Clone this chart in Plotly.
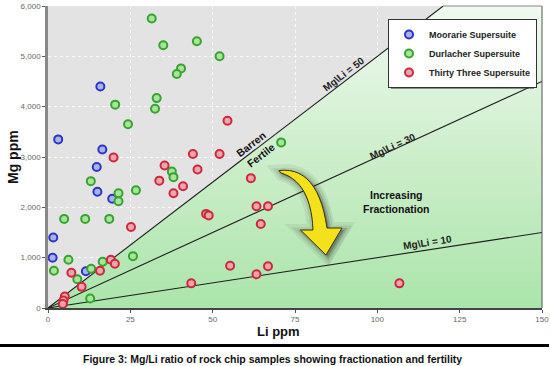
import plotly.graph_objects as go

# ---------------- data ----------------
moorarie_li = [15.9, 3.1, 16.5, 14.8, 15.0, 19.5, 1.6, 1.4, 11.5]
moorarie_mg = [4400, 3350, 3150, 2800, 2310, 2170, 1400, 1000, 730]

durlacher_li = [31.5, 35.0, 45.2, 52.1, 40.4, 39.1, 20.4, 33.0, 32.5, 24.3, 70.8, 37.6, 38.1,
                13.0, 26.7, 21.4, 21.4, 4.9, 11.3, 18.6, 25.8, 6.2, 16.6, 13.1, 1.8, 8.9, 12.8]
durlacher_mg = [5750, 5220, 5300, 5000, 4760, 4650, 4040, 4170, 3960, 3650, 3290, 2710, 2600,
                2520, 2340, 2280, 2120, 1770, 1770, 1770, 1030, 960, 920, 780, 740, 570, 190]

thirty_li = [54.5, 44.0, 52.1, 19.9, 35.4, 45.4, 61.6, 33.8, 41.0, 38.1, 63.3, 66.8, 48.0, 48.8,
             64.6, 25.2, 19.1, 20.3, 55.3, 66.8, 15.8, 7.1, 63.3, 43.5, 106.7, 10.2, 5.1, 4.7, 4.5]
thirty_mg = [3720, 3060, 3060, 2990, 2830, 2750, 2580, 2530, 2420, 2280, 2020, 2020, 1870, 1840,
             1670, 1610, 960, 880, 840, 830, 740, 700, 670, 490, 490, 420, 230, 150, 80]

ratios = [50, 30, 10]
x_ticks = [0, 25, 50, 75, 100, 125, 150]
y_ticks = [0, 1000, 2000, 3000, 4000, 5000, 6000]

X_MAX, Y_MAX = 150, 6000

# ---------------- layout geometry (pixels) ----------------
W, H = 550, 366
L, R, T, B = 48, 542, 6, 308


def dx(px):
    return (px - L) / (R - L) * X_MAX


def dy(py):
    return (B - py) / (B - T) * Y_MAX


def pxp(px):
    return (px - L) / (R - L)


def pyp(py):
    return (B - py) / (B - T)


fig = go.Figure()

# green fertile region below Mg/Li = 50
top_x = Y_MAX / ratios[0]
fig.add_trace(go.Scatter(
    x=[0, top_x, X_MAX, X_MAX, 0], y=[0, Y_MAX, Y_MAX, 0, 0],
    mode="lines", line=dict(width=0), fill="toself",
    fillgradient=dict(type="vertical",
                      colorscale=[[0, "#abe5ab"], [0.5, "#cdeecb"], [1, "#f0faf0"]]),
    hoverinfo="skip", showlegend=False))

# ratio lines
for r in ratios:
    xe = min(X_MAX, Y_MAX / r)
    fig.add_trace(go.Scatter(x=[0, xe], y=[0, xe * r], mode="lines",
                             line=dict(color="#1e1e1e", width=1.1),
                             hoverinfo="skip", showlegend=False))

# ---------------- arrow (decoration) ----------------
def qbez(p0, c, p1, n=14):
    pts = []
    for i in range(n + 1):
        t = i / n
        x = (1 - t) ** 2 * p0[0] + 2 * (1 - t) * t * c[0] + t ** 2 * p1[0]
        y = (1 - t) ** 2 * p0[1] + 2 * (1 - t) * t * c[1] + t ** 2 * p1[1]
        pts.append((x, y))
    return pts


outer = qbez((279, 170.5), (318, 166), (327, 228))
head = [(342, 228), (326, 255), (300.5, 230), (313, 230)]
inner = qbez((313, 230), (311, 182), (281, 173))
arrow_px = outer + head + inner


def path_from(pts, ox=0, oy=0):
    s = "M " + " L ".join(f"{dx(p[0] + ox):.3f},{dy(p[1] + oy):.3f}" for p in pts) + " Z"
    return s


shapes = []
# shadow layers
for w, op, off in [(14, 0.07, 1), (9, 0.10, 2), (4, 0.2, 2)]:
    shapes.append(dict(type="path", path=path_from(arrow_px, off, off), xref="x", yref="y",
                       fillcolor=f"rgba(40,40,40,{op})", line=dict(color=f"rgba(40,40,40,{op})", width=w),
                       layer="above"))
shapes.append(dict(type="path", path=path_from(arrow_px), xref="x", yref="y",
                   fillcolor="#f3e11c", line=dict(color="#3a3300", width=1), layer="above"))

# legend shadow
LEG_X0, LEG_Y0 = 388, 19
shapes.append(dict(type="rect", xref="paper", yref="paper",
                   x0=pxp(LEG_X0 + 3), x1=pxp(LEG_X0 + 146), y0=pyp(LEG_Y0 + 70), y1=pyp(LEG_Y0 + 3),
                   fillcolor="rgba(60,60,60,0.55)", line=dict(width=0), layer="above"))
# right / top border
shapes.append(dict(type="line", xref="paper", yref="paper", x0=1, x1=1, y0=0, y1=1,
                   line=dict(color="#555", width=1)))
shapes.append(dict(type="line", xref="paper", yref="paper", x0=pxp(443), x1=1, y0=1, y1=1,
                   line=dict(color="#888", width=1)))
# caption rule
shapes.append(dict(type="line", xref="paper", yref="paper", x0=pxp(0), x1=pxp(549),
                   y0=pyp(345.5), y1=pyp(345.5), line=dict(color="#000", width=3)))

# ---------------- scatter series ----------------
series = [
    ("Moorarie Supersuite", moorarie_li, moorarie_mg, "#2b36c4", "#aab2ee"),
    ("Durlacher Supersuite", durlacher_li, durlacher_mg, "#36a42e", "#a8e49c"),
    ("Thirty Three Supersuite", thirty_li, thirty_mg, "#c92a3c", "#f3a3ad"),
]
for name, xs, ys, edge, face in series:
    fig.add_trace(go.Scatter(x=xs, y=ys, mode="markers", name=name,
                             marker=dict(symbol="circle", size=8, color=face,
                                         line=dict(color=edge, width=2))))

# ---------------- annotations ----------------
ann = []
lab_font = dict(family="Arial, sans-serif", size=10, color="#222")
ann.append(dict(x=dx(343), y=dy(74), text="<b>Mg\\Li = 50</b>", textangle=-37.4, showarrow=False,
                font=lab_font, xref="x", yref="y"))
ann.append(dict(x=dx(392), y=dy(146), text="<b>Mg\\Li = 30</b>", textangle=-24.6, showarrow=False,
                font=lab_font, xref="x", yref="y"))
ann.append(dict(x=dx(427), y=dy(242), text="<b>Mg\\Li = 10</b>", textangle=-8.6, showarrow=False,
                font=lab_font, xref="x", yref="y"))
big_font = dict(family="Arial, sans-serif", size=10.5, color="#111")
ann.append(dict(x=dx(251), y=dy(144), text="<b>Barren</b>", textangle=-37.4, showarrow=False,
                font=big_font, xref="x", yref="y"))
ann.append(dict(x=dx(261), y=dy(155), text="<b>Fertile</b>", textangle=-37.4, showarrow=False,
                font=big_font, xref="x", yref="y"))
ann.append(dict(x=dx(396), y=dy(202), text="<b>Increasing<br>Fractionation</b>", showarrow=False,
                font=dict(family="Arial, sans-serif", size=10.5, color="#111"), xref="x", yref="y"))
ann.append(dict(x=pxp(278), y=pyp(331), text="<b>Li ppm</b>", showarrow=False, xref="paper", yref="paper",
                xanchor="center", yanchor="middle",
                font=dict(family="Arial, sans-serif", size=13, color="#111")))
ann.append(dict(x=pxp(13), y=pyp(157), text="<b>Mg ppm</b>", showarrow=False, textangle=-90,
                xanchor="center", yanchor="middle",
                xref="paper", yref="paper", font=dict(family="Arial, sans-serif", size=14, color="#111")))
ann.append(dict(x=pxp(272), y=pyp(358.5), showarrow=False, xref="paper", yref="paper",
                xanchor="center", yanchor="middle",
                text="<b>Figure 3: Mg/Li ratio of rock chip samples showing fractionation and fertility</b>",
                font=dict(family="Arial, sans-serif", size=10.5, color="#111")))

grid = dict(gridcolor="rgba(255,255,255,0.75)", griddash="dot", gridwidth=1)
fig.update_layout(
    width=W, height=H,
    margin=dict(l=L, r=W - R, t=T, b=H - B, autoexpand=False),
    paper_bgcolor="white", plot_bgcolor="#e3e3e3",
    font=dict(family="Arial, sans-serif", size=8, color="#555"),
    xaxis=dict(range=[0, X_MAX], tickvals=x_ticks, ticktext=[str(v) for v in x_ticks],
               showline=True, linecolor="#444", linewidth=1.5, ticks="outside", ticklen=3,
               tickcolor="#555", zeroline=False, automargin=False,
               tickfont=dict(size=8, color="#666"), **grid),
    yaxis=dict(range=[0, Y_MAX], tickvals=y_ticks, ticktext=[f"{v:,}" for v in y_ticks],
               showline=True, linecolor="#888", linewidth=2.5, ticks="outside", ticklen=3,
               tickcolor="#555", zeroline=False, automargin=False,
               tickfont=dict(size=8, color="#666"), **grid),
    legend=dict(x=pxp(LEG_X0), y=pyp(LEG_Y0), xanchor="left", yanchor="top",
                bgcolor="white", bordercolor="#333", borderwidth=1,
                font=dict(family="Arial, sans-serif", size=9, color="#222", weight="bold"),
                itemwidth=30, tracegroupgap=0),
    shapes=shapes, annotations=ann,
)

fig.write_html("out.html", config={"displayModeBar": False},
               post_script="document.body.style.margin='0';document.body.style.padding='0';")
